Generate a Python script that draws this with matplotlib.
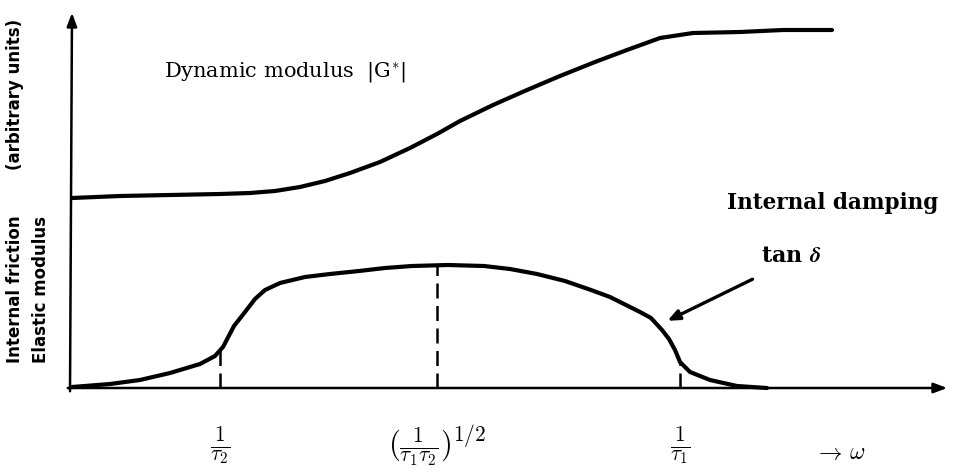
import numpy as np
import matplotlib.pyplot as plt

plt.rcParams['mathtext.fontset'] = 'cm'
plt.rcParams['font.family'] = 'DejaVu Serif'

# 动态模量 |G*| 随频率的变化 (任意单位)
mod_w = [0.02, 0.50, 1.00, 1.50, 1.80, 2.05, 2.30, 2.55, 2.80, 3.10, 3.40, 3.67,
         3.90, 4.23, 4.57, 4.90, 5.25, 5.57, 5.90, 6.23, 6.70, 7.13, 7.62]
mod_G = [1.90, 1.92, 1.93, 1.94, 1.95, 1.97, 2.01, 2.07, 2.15, 2.26, 2.40, 2.54,
         2.67, 2.83, 2.98, 3.12, 3.26, 3.38, 3.50, 3.55, 3.56, 3.58, 3.58]

# 内耗 tan(delta)
tan_w = [0.02, 0.40, 0.70, 1.00, 1.30, 1.45, 1.53, 1.64, 1.75, 1.85, 1.95, 2.10,
         2.35, 2.60, 2.89, 3.15, 3.42, 3.78, 4.14, 4.40, 4.67, 4.95, 5.21, 5.40,
         5.56, 5.70, 5.81, 5.92, 5.99, 6.05, 6.10, 6.20, 6.40, 6.67, 6.97]
tan_d = [0.01, 0.04, 0.08, 0.15, 0.24, 0.32, 0.41, 0.62, 0.76, 0.89, 0.98, 1.05,
         1.11, 1.14, 1.17, 1.20, 1.22, 1.23, 1.22, 1.19, 1.14, 1.07, 0.98, 0.91,
         0.83, 0.76, 0.70, 0.58, 0.49, 0.38, 0.26, 0.16, 0.08, 0.02, 0.00]

# 特征频率 1/tau2, (1/tau1 tau2)^1/2, 1/tau1
w_marks = [1.50, 3.67, 6.10]
w_labels = [r'$\frac{1}{\tau_2}$', r'$(\frac{1}{\tau_1\tau_2})^{1/2}$', r'$\frac{1}{\tau_1}$']

fig = plt.figure(figsize=(9.54, 4.74), dpi=100)
ax = fig.add_axes([0, 0, 1, 1])
ax.set_xlim(-0.7, 8.84)
ax.set_ylim(-0.86, 3.88)
ax.axis('off')

# 坐标轴箭头
ax.annotate('', xy=(8.80, 0), xytext=(-0.05, 0),
            arrowprops=dict(arrowstyle='-|>,head_length=0.8,head_width=0.3', lw=1.8, color='black'))
ax.annotate('', xy=(0.02, 3.78), xytext=(0.0, -0.06),
            arrowprops=dict(arrowstyle='-|>,head_length=0.8,head_width=0.3', lw=1.8, color='black'))

# 曲线
ax.plot(mod_w, mod_G, color='black', lw=3, solid_capstyle='round', solid_joinstyle='round')
ax.plot(tan_w, tan_d, color='black', lw=3, solid_capstyle='round', solid_joinstyle='round')

# 虚线与刻度标签
for w, lab in zip(w_marks, w_labels):
    h = np.interp(w, tan_w, tan_d)
    ax.plot([w, w], [0, h], color='black', lw=1.8, ls=(0, (6, 3)))
    ax.text(w, -0.58, lab, ha='center', va='center', fontsize=22)
ax.text(7.70, -0.64, r'$\rightarrow\,\omega$', ha='center', va='center', fontsize=17)

# 文字标注
ax.text(2.15, 3.16, r'Dynamic modulus  |G$^{*}$|', ha='center', va='center', fontsize=15)
ax.text(7.63, 1.85, 'Internal damping', ha='center', va='center', fontsize=15.5,
        fontweight='bold')
ax.text(7.21, 1.32, r'tan $\boldsymbol{\delta}$', ha='center', va='center', fontsize=16,
        fontweight='bold')
ax.annotate('', xy=(5.95, 0.66), xytext=(6.85, 1.10),
            arrowprops=dict(arrowstyle='-|>,head_length=0.7,head_width=0.3', lw=2.4, color='black'))

# 纵轴说明
ylab = dict(rotation=90, ha='center', va='bottom', fontsize=12, fontweight='bold',
            family='DejaVu Sans')
ax.text(-0.55, 0.25, 'Internal friction', **ylab)
ax.text(-0.55, 2.18, '(arbitrary units)', **ylab)
ax.text(-0.29, 0.25, 'Elastic modulus', **ylab)

fig.savefig('out.png', dpi=100)
